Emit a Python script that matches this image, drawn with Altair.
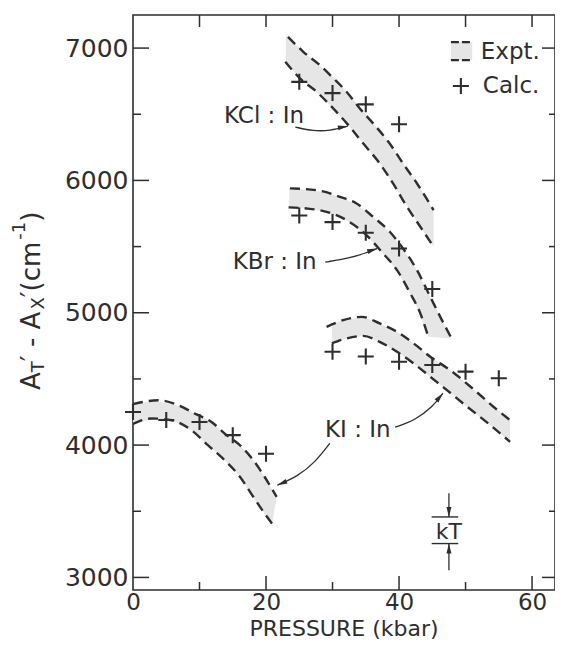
import altair as alt
import pandas as pd

INK = "#2e2e2e"
FONT = "DejaVu Sans"
W, H = 422, 575
XDOM = [0, 63.45]
YDOM = [2905, 7250]

# ---------------- values ----------------
# calculated points (+)
calc_kcl_p = [25, 30, 35, 40]
calc_kcl_v = [6745, 6660, 6575, 6425]
calc_kbr_p = [25, 30, 35, 40, 45]
calc_kbr_v = [5735, 5685, 5605, 5485, 5180]
calc_ki_p = [0, 5, 10, 15, 20, 30, 35, 40, 45, 50, 55]
calc_ki_v = [4250, 4190, 4175, 4075, 3935, 4705, 4670, 4630, 4605, 4555, 4505]

# experimental band edges (dashed curves)
kcl_up_p = [23.3, 25.6, 28.1, 29.9, 32.1, 34.1, 36.1, 38.4, 40.6, 42.7, 45.2]
kcl_up_v = [7085, 6972, 6871, 6783, 6670, 6544, 6431, 6292, 6128, 5977, 5776]
kcl_lo_p = [22.9, 25.1, 27.6, 30.1, 32.6, 34.6, 37.1, 39.1, 41.2, 43.2, 45.2]
kcl_lo_v = [6897, 6771, 6670, 6544, 6405, 6280, 6128, 5977, 5800, 5650, 5498]
kbr_up_p = [23.6, 28.1, 31.1, 33.6, 36.1, 38.6, 40.6, 42.7, 44.7, 46.2, 47.9]
kbr_up_v = [5940, 5922, 5876, 5826, 5725, 5612, 5486, 5322, 5120, 4969, 4806]
kbr_lo_p = [23.4, 26.1, 29.1, 32.1, 35.1, 37.6, 39.7, 41.7, 43.2, 44.4]
kbr_lo_v = [5796, 5788, 5763, 5700, 5587, 5448, 5322, 5146, 4995, 4819]
kia_up_p = [0, 3.8, 6.8, 9.3, 11.8, 13.8, 16.1, 18.1, 19.8, 21.6]
kia_up_v = [4310, 4339, 4301, 4238, 4175, 4087, 3998, 3885, 3759, 3608]
kia_lo_p = [0, 2.8, 5.8, 8.8, 11.3, 13.8, 16.1, 18.1, 19.8, 20.9]
kia_lo_v = [4160, 4201, 4188, 4112, 3998, 3885, 3759, 3608, 3482, 3407]
kib_up_p = [29.1, 31.6, 34.4, 37.1, 39.7, 42.2, 44.7, 47.7, 51.7, 54.2, 56.7]
kib_up_v = [4894, 4944, 4969, 4919, 4856, 4768, 4667, 4566, 4400, 4290, 4188]
kib_lo_p = [29.9, 32.1, 34.6, 37.1, 39.7, 42.2, 44.7, 47.2, 50.0, 53.5, 56.7]
kib_lo_v = [4768, 4806, 4825, 4780, 4705, 4617, 4516, 4415, 4300, 4160, 4024]

# shaded bands (read at common pressures)
band_kcl_p = [23.0, 25.0, 27.5, 30.0, 32.5, 35.0, 37.5, 40.0, 42.5, 45.2]
band_kcl_hi = [7095, 7000, 6890, 6785, 6650, 6500, 6345, 6175, 5995, 5776]
band_kcl_lo = [6890, 6778, 6672, 6548, 6410, 6255, 6098, 5910, 5703, 5498]
band_kbr_p = [23.5, 26.0, 29.0, 32.0, 35.0, 37.5, 40.0, 42.5, 44.4, 46.2, 47.9]
band_kbr_hi = [5940, 5930, 5908, 5858, 5769, 5662, 5524, 5338, 5150, 4969, 4806]
band_kbr_lo = [5796, 5788, 5764, 5702, 5591, 5454, 5296, 5065, 4819, 4812, 4806]
band_kia_p = [0, 3, 6, 9, 11.5, 14, 16, 18, 19.8, 20.9, 21.6]
band_kia_hi = [4310, 4333, 4311, 4246, 4183, 4079, 4002, 3891, 3759, 3667, 3608]
band_kia_lo = [4160, 4200, 4183, 4103, 3989, 3874, 3764, 3616, 3482, 3407, 3608]
band_kib_p = [29.9, 32.0, 34.5, 37.0, 39.7, 42.2, 44.7, 47.5, 50.0, 53.5, 56.7]
band_kib_hi = [4915, 4948, 4967, 4921, 4856, 4768, 4667, 4573, 4470, 4321, 4188]
band_kib_lo = [4768, 4804, 4824, 4782, 4705, 4617, 4516, 4405, 4300, 4160, 4024]

# labels and their pointer arrows
label_text = ["KCl : In", "KBr : In", "KI : In"]
label_p = [19.7, 21.3, 33.8]
label_v = [6486, 5382, 4113]
arrow_kcl_p = [24.4, 27.1, 29.6, 32.3]
arrow_kcl_v = [6403, 6373, 6375, 6410]
arrow_kbr_p = [28.9, 32.6, 34.9, 36.7]
arrow_kbr_v = [5382, 5413, 5450, 5485]
arrow_ki1_p = [39.4, 42.4, 45.0, 46.6]
arrow_ki1_v = [4135, 4188, 4286, 4392]
arrow_ki2_p = [29.6, 27.4, 24.8, 21.7]
arrow_ki2_v = [4014, 3871, 3765, 3697]
arrow_angles = [350, 342, 310, 157]

# kT scale marker
kt_p = 47.5
kt_band = [3256, 3457]
kt_tails = [3054, 3636]
kt_bar_p = [44.9, 48.9]
kt_text_v = [3345]

# legend
leg_box_p = [47.8, 51.0]
leg_box_v = [6909, 7045]
leg_text = ["Expt.", "Calc."]
leg_text_p = [52.3, 52.6]
leg_text_v = [6970, 6713]
leg_cross_p = [49.3]
leg_cross_v = [6713]

# axes
x_labels = [0, 20, 40, 60]
x_major = [20, 40, 60]
x_minor = [10, 30, 50]
x_top = [10, 20, 30, 40, 50, 60]
y_major = [3000, 4000, 5000, 6000, 7000]
y_minor = [3500, 4500, 5500, 6500]

# ---------------- tables ----------------
def curve_rows(name, ps, vs):
    return pd.DataFrame({"curve": name, "P": ps, "V": vs, "i": range(len(ps))})

curves = pd.concat([
    curve_rows("kcl_up", kcl_up_p, kcl_up_v), curve_rows("kcl_lo", kcl_lo_p, kcl_lo_v),
    curve_rows("kbr_up", kbr_up_p, kbr_up_v), curve_rows("kbr_lo", kbr_lo_p, kbr_lo_v),
    curve_rows("kia_up", kia_up_p, kia_up_v), curve_rows("kia_lo", kia_lo_p, kia_lo_v),
    curve_rows("kib_up", kib_up_p, kib_up_v), curve_rows("kib_lo", kib_lo_p, kib_lo_v),
])

def band_rows(name, ps, hi, lo):
    return pd.DataFrame({"band": name, "P": ps, "V": hi, "lo": lo})

bands = pd.concat([
    band_rows("kcl", band_kcl_p, band_kcl_hi, band_kcl_lo),
    band_rows("kbr", band_kbr_p, band_kbr_hi, band_kbr_lo),
    band_rows("kia", band_kia_p, band_kia_hi, band_kia_lo),
    band_rows("kib", band_kib_p, band_kib_hi, band_kib_lo),
])

calc = pd.DataFrame({"P": calc_kcl_p + calc_kbr_p + calc_ki_p + leg_cross_p,
                     "V": calc_kcl_v + calc_kbr_v + calc_ki_v + leg_cross_v})

arrows = pd.concat([
    curve_rows("a1", arrow_kcl_p, arrow_kcl_v), curve_rows("a2", arrow_kbr_p, arrow_kbr_v),
    curve_rows("a3", arrow_ki1_p, arrow_ki1_v), curve_rows("a4", arrow_ki2_p, arrow_ki2_v),
    curve_rows("k1", [kt_p, kt_p], [kt_tails[1], kt_band[1]]),
    curve_rows("k2", [kt_p, kt_p], [kt_tails[0], kt_band[0]]),
])
heads = pd.DataFrame({
    "P": [arrow_kcl_p[-1], arrow_kbr_p[-1], arrow_ki1_p[-1], arrow_ki2_p[-1], kt_p, kt_p],
    "V": [arrow_kcl_v[-1], arrow_kbr_v[-1], arrow_ki1_v[-1], arrow_ki2_v[-1], kt_band[1], kt_band[0]],
    "ang": arrow_angles + [90, 270],
})
kt_bars = pd.DataFrame({"P": [kt_bar_p[0]] * 2, "P2": [kt_bar_p[1]] * 2, "V": kt_band})
labels = pd.DataFrame({"t": label_text + ["kT"], "P": label_p + [kt_p], "V": label_v + kt_text_v,
                       "fs": [23, 23, 23, 22]})
legtxt = pd.DataFrame({"t": leg_text, "P": leg_text_p, "V": leg_text_v})
legbox = pd.DataFrame({"P": [leg_box_p[0]], "P2": [leg_box_p[1]], "V": [leg_box_v[0]], "V2": [leg_box_v[1]]})
legdash = pd.DataFrame({"P": [leg_box_p[0]] * 2, "P2": [leg_box_p[1]] * 2, "V": leg_box_v})
one = pd.DataFrame({"a": [0]})

# ---------------- encodings ----------------
xs = alt.Scale(domain=XDOM, nice=False, zero=False)
ys = alt.Scale(domain=YDOM, nice=False, zero=False)
PX_PER_V = H / (YDOM[1] - YDOM[0])

x_axis = alt.Axis(values=x_labels, title=None, labelFlush=False, ticks=False, domain=False,
                  grid=False, labelPadding=1, labelFontSize=23, labelFont=FONT,
                  labelColor=INK, format="d")
y_axis = alt.Axis(values=y_major, title=None, ticks=False, domain=False, grid=False,
                  labelPadding=5, labelFontSize=25, labelFont=FONT, labelColor=INK, format="d")

def X(f):
    return alt.X(f, type="quantitative", scale=xs, axis=x_axis)

def Y(f):
    return alt.Y(f, type="quantitative", scale=ys, axis=y_axis)

BAND = "#e6e6e6"
band_layer = alt.Chart(bands).mark_area(color=BAND).encode(
    x=X("P"), y=Y("V"), y2="lo:Q", detail="band:N")

curve_layer = alt.Chart(curves).mark_line(
    color=INK, strokeWidth=2.4, strokeDash=[10, 6], interpolate="monotone"
).encode(x=X("P"), y=Y("V"), detail="curve:N", order="i:Q")

CROSS = "M-1,0L1,0M0,-1L0,1"
calc_layer = alt.Chart(calc).mark_point(
    shape=CROSS, size=256, filled=False, color=INK, strokeWidth=2.1, opacity=1
).encode(x=X("P"), y=Y("V"))

arrow_layer = alt.Chart(arrows).mark_line(
    color=INK, strokeWidth=1.3, interpolate="basis"
).encode(x=X("P"), y=Y("V"), detail="curve:N", order="i:Q")

head_layer = alt.Chart(heads).mark_point(
    shape="M0,0L-2,-0.5L-2,0.5Z", size=100, filled=True, color=INK, opacity=1
).encode(x=X("P"), y=Y("V"), angle=alt.Angle("ang:Q", scale=None))

kt_bar_layer = alt.Chart(kt_bars).mark_rule(color=INK, strokeWidth=1.4).encode(
    x=X("P"), x2="P2:Q", y=Y("V"))

label_layer = alt.Chart(labels).mark_text(
    font=FONT, color=INK, baseline="middle", align="center"
).encode(x=X("P"), y=Y("V"), text="t:N", size=alt.Size("fs:Q", scale=None))

legbox_layer = alt.Chart(legbox).mark_rect(color=BAND).encode(
    x=X("P"), x2="P2:Q", y=Y("V"), y2="V2:Q")
legdash_layer = alt.Chart(legdash).mark_rule(color=INK, strokeWidth=2.2, strokeDash=[8, 3]).encode(
    x=X("P"), x2="P2:Q", y=Y("V"))
legtxt_layer = alt.Chart(legtxt).mark_text(
    font=FONT, fontSize=23, color=INK, baseline="middle", align="left"
).encode(x=X("P"), y=Y("V"), text="t:N")

# inward ticks on the frame
def vticks(vals, edge, length_px, inward):
    v2 = edge + inward * length_px / PX_PER_V
    df = pd.DataFrame({"P": vals, "V": [edge] * len(vals), "V2": [v2] * len(vals)})
    return alt.Chart(df).mark_rule(color=INK, strokeWidth=1.5).encode(
        x=X("P"), y=Y("V"), y2="V2:Q")

def hticks(vals, x0, x1):
    return alt.Chart(pd.DataFrame({"V": vals})).mark_rule(color=INK, strokeWidth=1.5).encode(
        y=Y("V"), x=alt.value(x0), x2=alt.value(x1))

tick_layers = [
    vticks(x_major, YDOM[0], 14, 1), vticks(x_minor, YDOM[0], 8, 1),
    vticks(x_top, YDOM[1], 12, -1),
    hticks(y_major, 0, 16), hticks(y_minor, 0, 8),
    hticks(y_major, W, W - 13), hticks(y_minor, W, W - 6),
]

# axis titles as text
def txt(t, px, py, fs, angle=0, align="left"):
    return alt.Chart(one).mark_text(
        text=t, font=FONT, fontSize=fs, color=INK, angle=angle, align=align,
        baseline="alphabetic"
    ).encode(x=alt.value(px), y=alt.value(py))

title_layers = [
    txt("PRESSURE (kbar)", 211, 621, 22, align="center"),
    txt("A", -93, 375, 26, 270),
    txt("T", -89, 357.2, 18, 270),
    txt("\u2032 - A", -93, 346.2, 26, 270),
    txt("X", -89, 294.6, 18, 270),
    txt("\u2032(cm", -93, 282.3, 26, 270),
    txt("-1", -108, 224.8, 18, 270),
    txt(")", -93, 206.8, 26, 270),
]

chart = alt.layer(
    band_layer, legbox_layer, curve_layer, legdash_layer, calc_layer, arrow_layer, head_layer,
    kt_bar_layer, label_layer, legtxt_layer, *tick_layers, *title_layers
).properties(
    width=W, height=H,
    padding={"left": 125, "top": 7, "right": 0, "bottom": 51},
    autosize=alt.AutoSizeParams(type="none"),
).configure_view(stroke=INK, strokeWidth=1.6)

chart.save("out.html", embed_options={"renderer": "svg", "actions": False})
